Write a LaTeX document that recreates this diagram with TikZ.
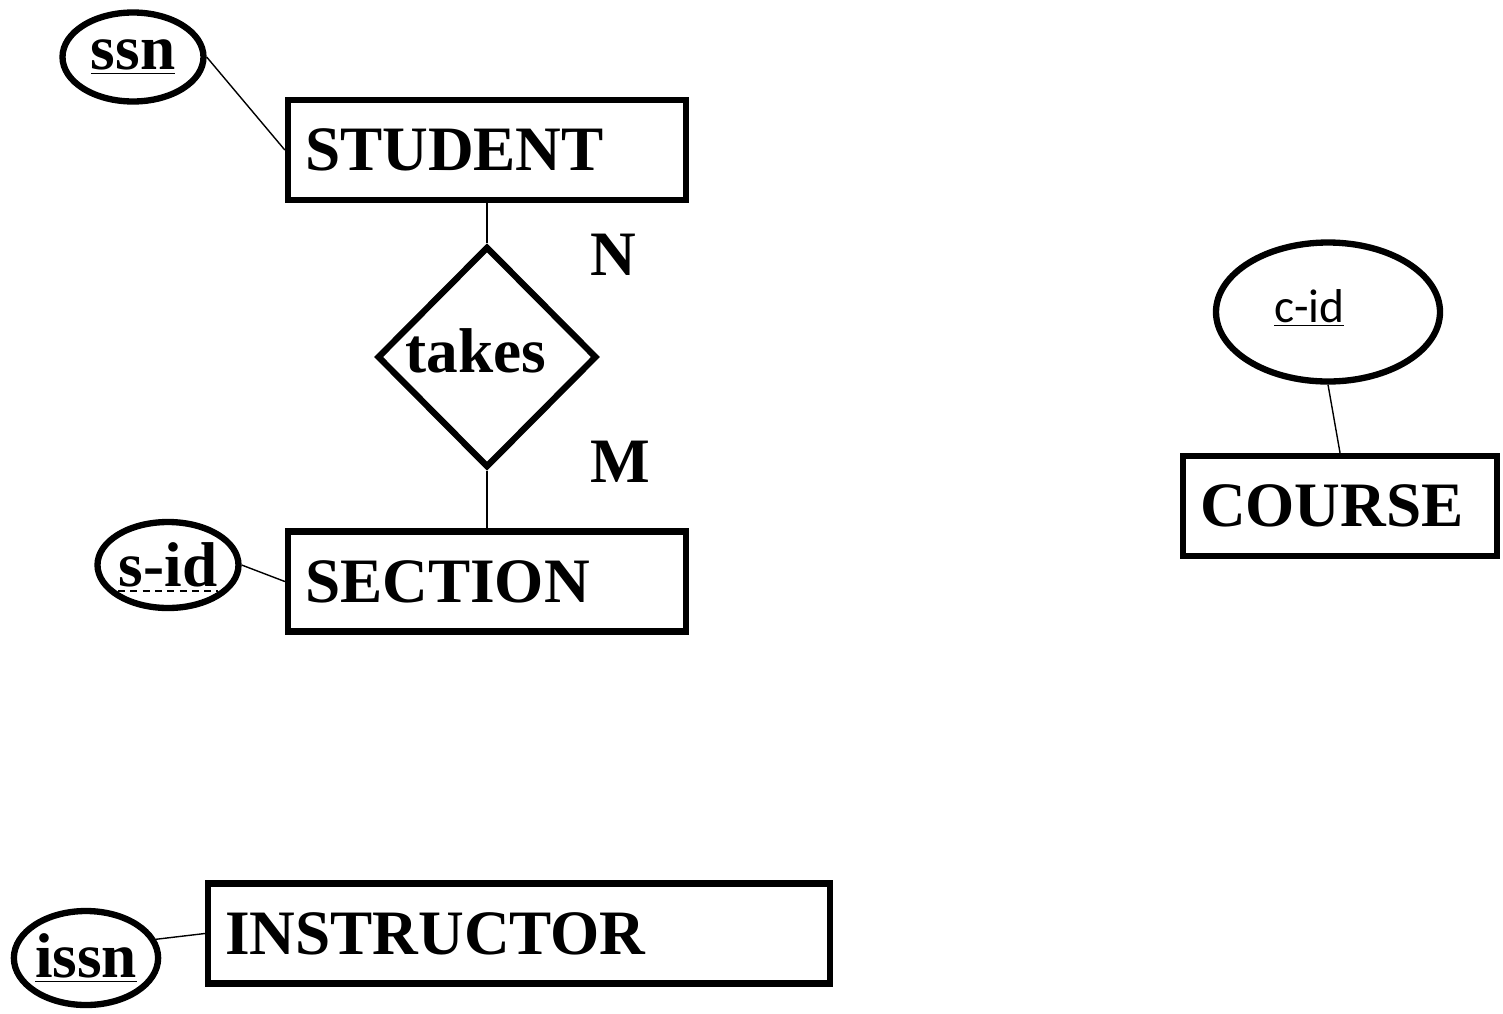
\documentclass[tikz,border=0pt]{standalone}
\usepackage{fontspec}
\setmainfont{Liberation Serif}
\newfontfamily\calibrifont{Carlito}
\usepackage{tikz}
\usetikzlibrary{positioning, shapes.geometric, calc}

\begin{document}
\begin{tikzpicture}[
    font=\fontsize{36}{40}\selectfont\bfseries,
    entity/.style={
        rectangle,
        draw,
        line width=3.6pt,
        minimum height=2cm,
        inner xsep=0.34cm,
        text width=#1,
        align=left
    },
    attr/.style={
        ellipse,
        draw,
        line width=3.6pt,
        inner sep=0pt
    },
    rel/.style={
        diamond,
        draw,
        line width=3.6pt,
        inner sep=0pt,
        minimum width=4.14cm,
        minimum height=4.42cm
    },
    link/.style={line width=0.8pt}
]

\useasboundingbox (0, 0) rectangle (30.06, -20.26);

\node[entity=7.28cm]  (student)    at (9.74, -3.0)    {STUDENT};
\node[rel]            (takes)      at (9.74, -7.14)   {\raisebox{0.25cm}{takes}\hspace*{0.45cm}};
\node[entity=7.28cm]  (section)    at (9.74, -11.63)  {SECTION};
\node[entity=5.6cm]   (course)     at (26.8, -10.12)  {COURSE};
\node[entity=11.76cm] (instructor) at (10.38, -18.67) {INSTRUCTOR};

\node[attr, minimum width=2.82cm, minimum height=1.78cm] (ssn)  at (2.66, -1.14)  {\underline{ssn}};
\node[attr, minimum width=2.82cm, minimum height=1.72cm] (sid)  at (3.36, -11.3)  {s-id};
\node[attr, minimum width=4.48cm, minimum height=2.78cm] (cid)  at (26.56, -6.24)
    {\calibrifont\mdseries\fontsize{27}{30}\selectfont\raisebox{0.25cm}{\underline{c-id}}\hspace*{0.75cm}};
\node[attr, minimum width=2.84cm, minimum height=1.88cm] (issn) at (1.72, -19.16) {\underline{issn}};

% partial key: dashed underline
\draw[line width=0.6pt, dash pattern=on 4pt off 3pt]
    ($(sid.center)+(-1.0,-0.52)$) -- ($(sid.center)+(1.0,-0.52)$);

\node (n) at (12.26, -5.1)  {N};
\node (m) at (12.4, -9.24)  {M};

\draw[link] (student.south) -- (takes.north);
\draw[link] (takes.south) -- (section.north);
\draw[link] (ssn.east) -- (student.west);
\draw[link] (sid.east) -- (section.west);
\draw[link] (cid.south) -- (course.north);
\draw[link] (issn.15) -- (instructor.west);

\end{tikzpicture}
\end{document}
